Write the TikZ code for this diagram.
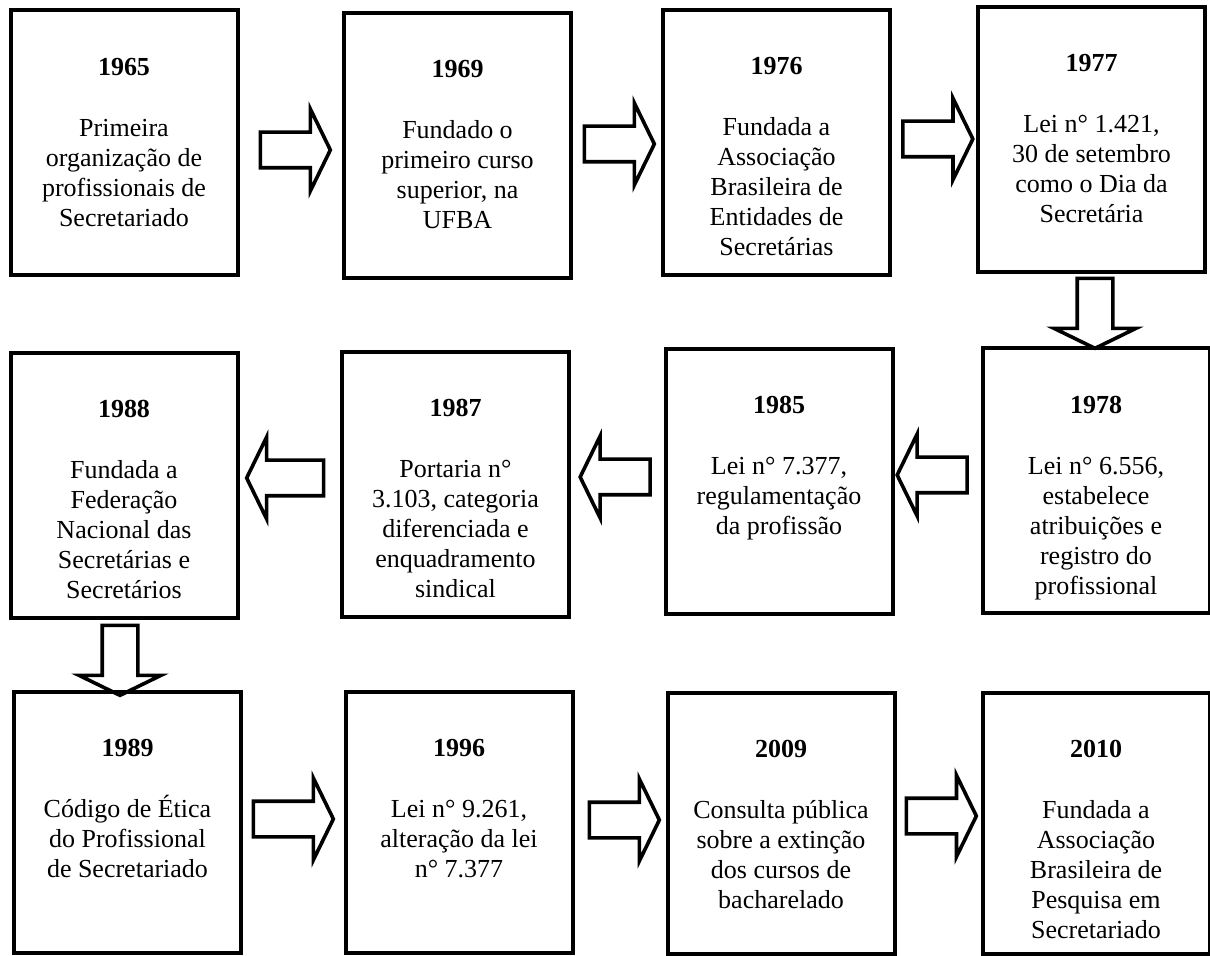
\documentclass[tikz,border=0pt]{standalone}
\usepackage{fontspec}
\setmainfont{Liberation Serif}
\usepackage{tikz}
\usetikzlibrary{positioning, shapes.arrows}

\tikzset{
	evbox/.style={draw, rectangle, line width=2pt, minimum width=113.5pt, minimum height=132.5pt, inner sep=0pt},
	evtext/.style={align=center, inner sep=0pt, font=\fontsize{13}{15}\selectfont},
	blockarrow/.style={draw, single arrow, line width=1.8pt, single arrow head extend=11.5pt, single arrow tip angle=128, inner xsep=0pt, inner ysep=8pt, minimum width=0pt, minimum height=35pt}
}

\begin{document}
\begin{tikzpicture}[x=0.5pt, y=-0.5pt]
		\useasboundingbox (0,0) rectangle (1210,956);
		
		% primeira linha
		\node[evbox] (b1965) at (124,143) {};
		\node[evbox] (b1969) at (457.5,145.5) {};
		\node[evbox] (b1976) at (776.5,142.5) {};
		\node[evbox] (b1977) at (1091.5,139.5) {};
		
		% segunda linha
		\node[evbox] (b1978) at (1096,481) {};
		\node[evbox] (b1985) at (779,481.5) {};
		\node[evbox] (b1987) at (455.5,484.5) {};
		\node[evbox] (b1988) at (124,485.5) {};
		
		% terceira linha
		\node[evbox, minimum height=130.5pt] (b1989) at (127.5,822.5) {};
		\node[evbox, minimum height=130.5pt] (b1996) at (459,822.5) {};
		\node[evbox, minimum height=130.5pt] (b2009) at (781,823.5) {};
		\node[evbox, minimum height=130.5pt] (b2010) at (1096,823) {};
		
		\node[evtext, below=24.5pt of b1965.north] (t1965) {\textbf{1965}\\[15.5pt]Primeira\\organização de\\profissionais de\\Secretariado};
		\node[evtext, below=24.5pt of b1969.north] (t1969) {\textbf{1969}\\[15.5pt]Fundado o\\primeiro curso\\superior, na\\UFBA};
		\node[evtext, below=24.5pt of b1976.north] (t1976) {\textbf{1976}\\[15.5pt]Fundada a\\Associação\\Brasileira de\\Entidades de\\Secretárias};
		\node[evtext, below=24.5pt of b1977.north] (t1977) {\textbf{1977}\\[15.5pt]Lei n° 1.421,\\30 de setembro\\como o Dia da\\Secretária};
		\node[evtext, below=24.5pt of b1978.north] (t1978) {\textbf{1978}\\[15.5pt]Lei n° 6.556,\\estabelece\\atribuições e\\registro do\\profissional};
		\node[evtext, below=24.5pt of b1985.north] (t1985) {\textbf{1985}\\[15.5pt]Lei n° 7.377,\\regulamentação\\da profissão};
		\node[evtext, below=24.5pt of b1987.north] (t1987) {\textbf{1987}\\[15.5pt]Portaria n°\\3.103, categoria\\diferenciada e\\enquadramento\\sindical};
		\node[evtext, below=24.5pt of b1988.north] (t1988) {\textbf{1988}\\[15.5pt]Fundada a\\Federação\\Nacional das\\Secretárias e\\Secretários};
		\node[evtext, below=24.5pt of b1989.north] (t1989) {\textbf{1989}\\[15.5pt]Código de Ética\\do Profissional\\de Secretariado};
		\node[evtext, below=24.5pt of b1996.north] (t1996) {\textbf{1996}\\[15.5pt]Lei n° 9.261,\\alteração da lei\\n° 7.377};
		\node[evtext, below=24.5pt of b2009.north] (t2009) {\textbf{2009}\\[15.5pt]Consulta pública\\sobre a extinção\\dos cursos de\\bacharelado};
		\node[evtext, below=24.5pt of b2010.north] (t2010) {\textbf{2010}\\[15.5pt]Fundada a\\Associação\\Brasileira de\\Pesquisa em\\Secretariado};
		
		% setas
		\node[blockarrow] (a1) at (291,150) {};
		\node[blockarrow] (a2) at (615,144) {};
		\node[blockarrow] (a3) at (933.5,139) {};
		\node[blockarrow, rotate=-90] (a4) at (1095,309) {};
		\node[blockarrow, rotate=180] (a5) at (936.5,475) {};
		\node[blockarrow, rotate=180] (a6) at (619.5,477) {};
		\node[blockarrow, rotate=180, minimum height=38.5pt] (a7) at (289.5,478) {};
		\node[blockarrow, rotate=-90] (a8) at (120,656) {};
		\node[blockarrow, minimum height=40pt] (a9) at (289,819) {};
		\node[blockarrow] (a10) at (620,820) {};
		\node[blockarrow] (a11) at (937,816) {};
		
\end{tikzpicture}
\end{document}
